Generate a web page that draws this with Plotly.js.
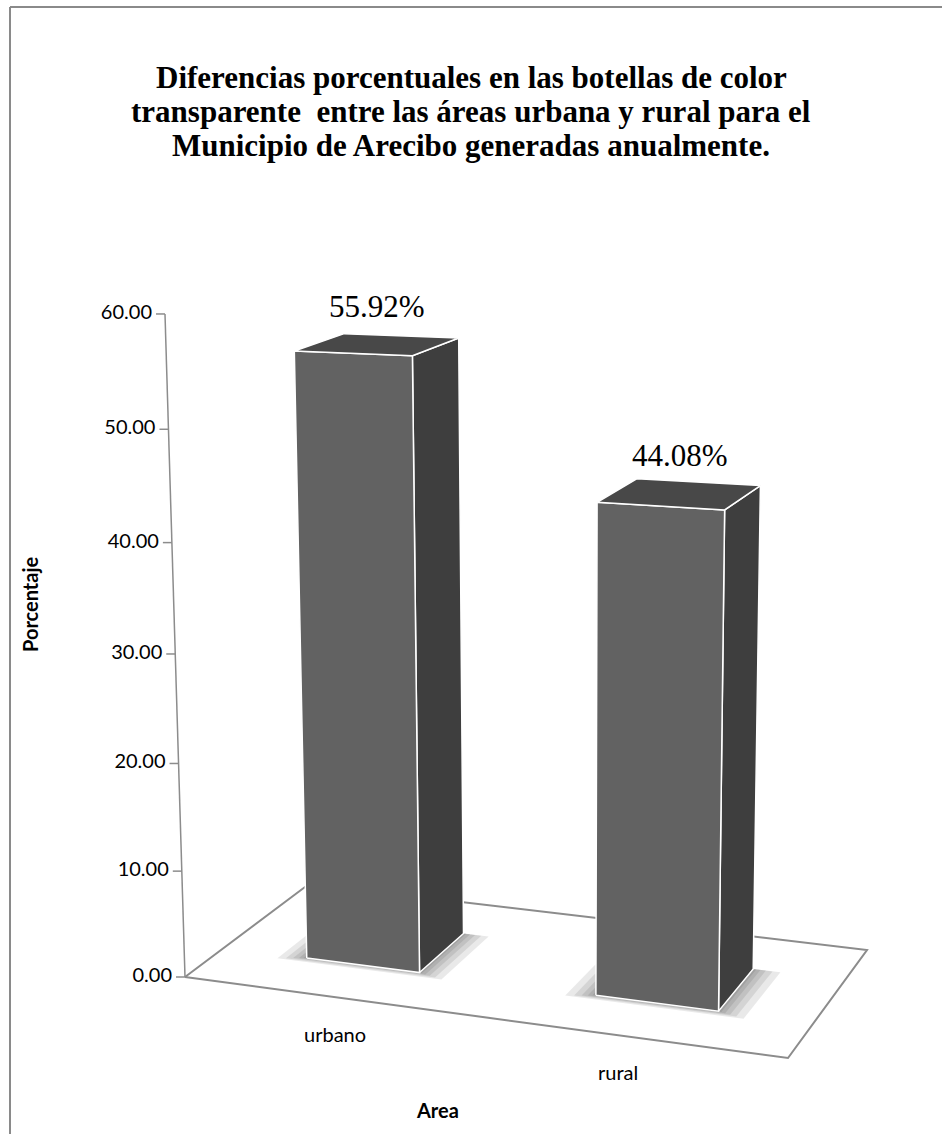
<!DOCTYPE html>
<html>
<head>
<meta charset="utf-8">
<script src="https://cdn.plot.ly/plotly-3.0.1.min.js"></script>
<style>
  html, body { margin: 0; padding: 0; background: #ffffff; }
  #chart { width: 942px; height: 1134px; }
</style>
</head>
<body>
<div id="chart"></div>
<script>
// ---- data ----
const categories = ['urbano', 'rural'];
const percentages = [55.92, 44.08];
const axisTicks = [0, 10, 20, 30, 40, 50, 60];
const axisMax = 60;
const titleLines = [
  'Diferencias porcentuales en las botellas de color',
  'transparente\u00a0 entre las áreas urbana y rural para el',
  'Municipio de Arecibo generadas anualmente.'
];
const xTitle = 'Area';
const yTitle = 'Porcentaje';

// ---- view: perspective of the 3-D column chart ----
// Unit floor (X across the categories, Z into depth) placed on the page.
const FLOOR = [[185, 977], [788, 1058], [867, 950], [309, 884]];
// Projective column for the value direction (one percentage unit).
const RISE = { k: -0.000833, m: -0.471, n: -11.312 };
const BAR_FILL = 0.4;          // share of a category slot taken by a column
const DEPTH = [0.3, 0.7];      // front and back of each column on the floor
const LABEL_PULL = 0.94;       // category labels sit slightly toward the middle

const SANS = 'Lato, "Open Sans", sans-serif';
const SERIF = '"Liberation Serif", "Times New Roman", serif';

function floorHomography(q) {
  const [[x0, y0], [x1, y1], [x2, y2], [x3, y3]] = q;
  const dx1 = x1 - x2, dx2 = x3 - x2, dx3 = x0 - x1 + x2 - x3;
  const dy1 = y1 - y2, dy2 = y3 - y2, dy3 = y0 - y1 + y2 - y3;
  const den = dx1 * dy2 - dx2 * dy1;
  const g = (dx3 * dy2 - dx2 * dy3) / den;
  const h = (dx1 * dy3 - dx3 * dy1) / den;
  return {
    a: x1 - x0 + g * x1, b: x3 - x0 + h * x3, c: x0,
    d: y1 - y0 + g * y1, e: y3 - y0 + h * y3, f: y0, g, h
  };
}
const H = floorHomography(FLOOR);

function project(X, V, Z) {
  const w = H.g * X + H.h * Z + 1 + RISE.k * V;
  return [
    (H.a * X + H.b * Z + H.c + RISE.m * V) / w,
    (H.d * X + H.e * Z + H.f + RISE.n * V) / w
  ];
}

function polygon(points, fill, lineColor, lineWidth) {
  const x = points.map(p => p[0]);
  const y = points.map(p => p[1]);
  x.push(x[0]); y.push(y[0]);
  return {
    type: 'scatter', mode: 'lines', x, y,
    fill: fill ? 'toself' : 'none',
    fillcolor: fill || 'rgba(0,0,0,0)',
    line: { color: lineColor || 'rgba(0,0,0,0)', width: lineWidth || 0 },
    hoverinfo: 'skip', showlegend: false
  };
}

const traces = [];
const annotations = [];
const slot = 1 / categories.length;
const GRID = '#8c8c8c';

// floor outline
traces.push(polygon([
  project(0, 0, 0), project(1, 0, 0), project(1, 0, 1), project(0, 0, 1)
], '#ffffff', GRID, 2));

// value axis with its ticks and labels
const axisLine = [project(0, 0, 0), project(0, axisMax, 0)];
traces.push({
  type: 'scatter', mode: 'lines',
  x: axisLine.map(p => p[0]), y: axisLine.map(p => p[1]),
  line: { color: GRID, width: 1.5 }, hoverinfo: 'skip', showlegend: false
});
const tickX = [], tickY = [], labX = [], labY = [], labT = [];
axisTicks.forEach(v => {
  const p = project(0, v, 0);
  tickX.push(p[0] - 9, p[0], null);
  tickY.push(p[1], p[1], null);
  labX.push(p[0] - 13); labY.push(p[1]); labT.push(v.toFixed(2));
});
traces.push({
  type: 'scatter', mode: 'lines', x: tickX, y: tickY,
  line: { color: GRID, width: 1.5 }, hoverinfo: 'skip', showlegend: false
});
traces.push({
  type: 'scatter', mode: 'text', x: labX, y: labY, text: labT,
  textposition: 'middle left',
  textfont: { family: SANS, size: 20, color: '#000000' },
  hoverinfo: 'skip', showlegend: false
});

// columns
categories.forEach((cat, i) => {
  const v = percentages[i];
  const xc = (i + 0.5) * slot;
  const half = BAR_FILL * slot / 2;
  const x0 = xc - half, x1 = xc + half;
  const [z0, z1] = DEPTH;

  // soft shadow on the floor around the column base
  [0.045, 0.032, 0.021, 0.012, 0.005].forEach(s => {
    traces.push(polygon([
      project(x0 - s, 0, z0 - s * 0.8), project(x1 + s, 0, z0 - s * 0.8),
      project(x1 + s, 0, z1), project(x0 - s, 0, z1)
    ], 'rgba(0,0,0,0.085)'));
  });

  traces.push(polygon([
    project(x1, 0, z0), project(x1, 0, z1), project(x1, v, z1), project(x1, v, z0)
  ], '#3e3e3e', '#ffffff', 1.5));
  traces.push(polygon([
    project(x0, 0, z0), project(x1, 0, z0), project(x1, v, z0), project(x0, v, z0)
  ], '#626262', '#ffffff', 1.5));
  traces.push(polygon([
    project(x0, v, z0), project(x1, v, z0), project(x1, v, z1), project(x0, v, z1)
  ], '#484848', '#ffffff', 1.5));

  const top = project(xc, v, 0.5);
  annotations.push({
    x: top[0], y: top[1], xref: 'x', yref: 'y', yshift: 38,
    text: v.toFixed(2) + '%', showarrow: false,
    font: { family: SERIF, size: 31, color: '#000000' }
  });

  const base = project(0.5 + (xc - 0.5) * LABEL_PULL, 0, 0);
  annotations.push({
    x: base[0], y: base[1], xref: 'x', yref: 'y', yshift: -37,
    text: cat, showarrow: false,
    font: { family: SANS, size: 20, color: '#000000' }
  });
});

// chart title
titleLines.forEach((line, i) => {
  annotations.push({
    x: 471, y: 77 + i * 34, xref: 'x', yref: 'y',
    text: '<b>' + line + '</b>', showarrow: false,
    font: { family: SERIF, size: 31, color: '#000000' }
  });
});

// axis titles
annotations.push({
  x: 30, y: 604, xref: 'x', yref: 'y', textangle: -90,
  text: '<b>' + yTitle + '</b>', showarrow: false,
  font: { family: SANS, size: 20, color: '#000000' }
});
annotations.push({
  x: 437, y: 1110, xref: 'x', yref: 'y',
  text: '<b>' + xTitle + '</b>', showarrow: false,
  font: { family: SANS, size: 20, color: '#000000' }
});

const layout = {
  width: 942, height: 1134,
  margin: { l: 0, r: 0, t: 0, b: 0, pad: 0 },
  paper_bgcolor: '#ffffff', plot_bgcolor: '#ffffff',
  showlegend: false,
  xaxis: { range: [0, 942], visible: false, fixedrange: true },
  yaxis: { range: [1134, 0], visible: false, fixedrange: true },
  annotations,
  shapes: [
    { type: 'line', xref: 'x', yref: 'y', x0: 10, y0: 7, x1: 942, y1: 7,
      line: { color: '#8a8a8a', width: 2 } },
    { type: 'line', xref: 'x', yref: 'y', x0: 10, y0: 7, x1: 10, y1: 1134,
      line: { color: '#8a8a8a', width: 2 } }
  ]
};

Plotly.newPlot('chart', traces, layout, { staticPlot: true, displayModeBar: false });
</script>
</body>
</html>
